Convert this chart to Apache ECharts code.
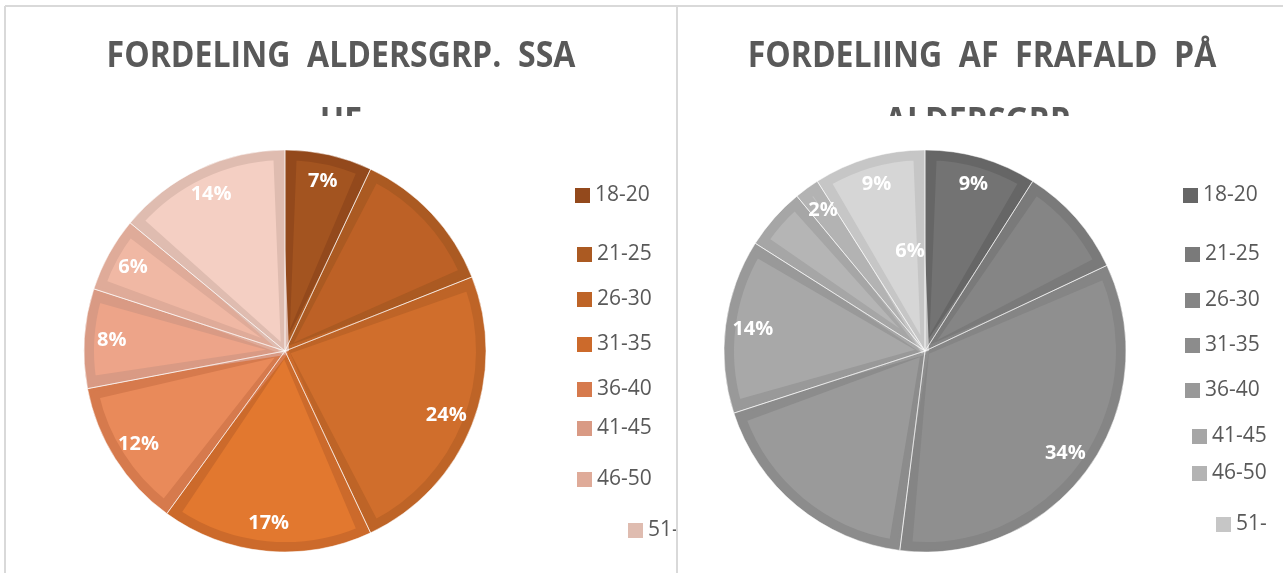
<!DOCTYPE html>
<html>
<head>
<meta charset="utf-8">
<script src="https://cdn.jsdelivr.net/npm/echarts@6/dist/echarts.min.js"></script>
<style>
  html, body { margin: 0; padding: 0; background: #fff; }
  #container { width: 1283px; height: 573px; }
</style>
</head>
<body>
<div id="container"></div>
<script>
// data
const ageGroups = ['18-20', '21-25', '26-30', '31-35', '36-40', '41-45', '46-50', '51-'];
const shareAll = [7, 12, 24, 17, 12, 8, 6, 14];
const shareDropout = [9, 9, 34, 18, 14, 5, 2, 9];
const labelsAll = ['7%', '', '24%', '17%', '12%', '8%', '6%', '14%'];
const labelsDropout = ['9%', '', '34%', '', '14%', '', '2%', '9%'];
const innerLabelsDropout = ['', '', '', '', '', '', '', '6%'];
const titleAll = ['FORDELING  ALDERSGRP.  SSA', 'HE'];
const titleDropout = ['FORDELIING  AF  FRAFALD  PÅ', 'ALDERSGRP.'];

// styles
const orangeFill = ['#A35420', '#BD6126', '#D06E2C', '#E2782F', '#E98A5A', '#EDA489', '#F0B8A4', '#F4CFC3'];
const orangeEdge = ['#93491C', '#AB5A22', '#BE6427', '#CC6A2B', '#D67A4D', '#D99A84', '#DFAB99', '#DFBCB0'];
const greyFill = ['#737373', '#858585', '#8F8F8F', '#9A9A9A', '#A8A8A8', '#B5B5B5', '#C2C2C2', '#D6D6D6'];
const greyEdge = ['#666666', '#7A7A7A', '#858585', '#8C8C8C', '#999999', '#A6A6A6', '#B3B3B3', '#C6C6C6'];
const legendPosAll = [[575, 195], [577, 254], [577, 299], [577, 344], [577, 389], [577, 428], [577, 479], [628, 530]];
const legendPosDropout = [[1183, 195], [1185, 254], [1185, 300], [1185, 345], [1185, 390], [1192, 436], [1192, 473], [1216, 524]];

const font = '"Open Sans", "Liberation Sans", sans-serif';
const R = 201;

let myChart = echarts.init(document.getElementById('container'), null, { renderer: 'canvas' });

function pieSeries(center, values, fill, edge, labels, innerLabels) {
  const base = {
    type: 'pie',
    center: center,
    startAngle: 90,
    clockwise: true,
    silent: true,
    animation: false,
    avoidLabelOverlap: false,
    labelLine: { show: false },
    emphasis: { disabled: true }
  };
  return [
    // darker rim of every slice
    Object.assign({}, base, {
      radius: [0, R],
      label: { show: false },
      data: values.map((v, i) => ({ name: ageGroups[i], value: v, itemStyle: { color: edge[i] } }))
    }),
    // inner fill, inset from the rim
    Object.assign({}, base, {
      radius: [0, R - 6],
      padAngle: 4.5,
      label: {
        show: !!innerLabels,
        position: 'inside',
        color: '#fff',
        fontFamily: font,
        fontWeight: 'bold',
        fontSize: 20,
        formatter: p => innerLabels ? innerLabels[p.dataIndex] : ''
      },
      labelLayout: p => (p.dataIndex === 7 ? { dx: 13, dy: -3 } : {}),
      data: values.map((v, i) => ({
        name: ageGroups[i],
        value: v,
        itemStyle: { color: fill[i], borderColor: edge[i], borderWidth: 8, borderJoin: 'bevel' }
      }))
    }),
    // thin light separators
    Object.assign({}, base, {
      radius: [0, R],
      itemStyle: { color: 'rgba(0,0,0,0)', borderColor: 'rgba(255,255,255,0.5)', borderWidth: 1 },
      label: { show: false },
      data: values.map((v, i) => ({ name: ageGroups[i], value: v }))
    }),
    // percentage labels
    Object.assign({}, base, {
      radius: [140, R],
      itemStyle: { color: 'rgba(0,0,0,0)' },
      label: {
        show: true,
        position: 'inside',
        color: '#fff',
        fontFamily: font,
        fontWeight: 'bold',
        fontSize: 20,
        formatter: p => labels[p.dataIndex]
      },
      data: values.map((v, i) => ({ name: ageGroups[i], value: v }))
    })
  ];
}

function legends(pos, colors) {
  return pos.map((p, i) => ({
    left: p[0],
    top: p[1] - 10,
    padding: 0,
    itemWidth: 15,
    itemHeight: 15,
    itemGap: 0,
    selectedMode: false,
    icon: 'rect',
    textStyle: { fontSize: 21, color: '#595959', fontFamily: font, lineHeight: 20 },
    data: [{ name: ageGroups[i], itemStyle: { color: colors[i] } }]
  }));
}

function titleText(x, lines, sx) {
  return lines.map((t, i) => ({
    type: 'text',
    x: x,
    y: 57 + i * 66,
    scaleX: sx,
    z: 10,
    style: {
      text: t,
      font: 'bold 36px ' + font,
      fill: '#595959',
      textAlign: 'center',
      textVerticalAlign: 'middle'
    }
  }));
}

let option = {
  backgroundColor: '#fff',
  animation: false,
  legend: legends(legendPosAll, orangeEdge).concat(legends(legendPosDropout, greyEdge)),
  graphic: [
    { type: 'line', z: 5, shape: { x1: 5, y1: 6, x2: 1283, y2: 6 }, style: { stroke: '#D9D9D9', lineWidth: 2 } },
    { type: 'line', z: 5, shape: { x1: 5, y1: 6, x2: 5, y2: 573 }, style: { stroke: '#D9D9D9', lineWidth: 2 } },
    { type: 'line', z: 5, shape: { x1: 677, y1: 6, x2: 677, y2: 573 }, style: { stroke: '#D9D9D9', lineWidth: 2 } }
  ]
    .concat(titleText(341, titleAll, 0.89))
    .concat(titleText(982, titleDropout, 0.89))
    .concat([
      { type: 'rect', z: 20, shape: { x: 120, y: 116, width: 440, height: 32 }, style: { fill: '#fff' } },
      { type: 'rect', z: 20, shape: { x: 740, y: 116, width: 490, height: 32 }, style: { fill: '#fff' } }
    ]),
  series: pieSeries([285, 351], shareAll, orangeFill, orangeEdge, labelsAll, null)
    .concat(pieSeries([925, 351], shareDropout, greyFill, greyEdge, labelsDropout, innerLabelsDropout))
};
myChart.setOption(option);
</script>
</body>
</html>
